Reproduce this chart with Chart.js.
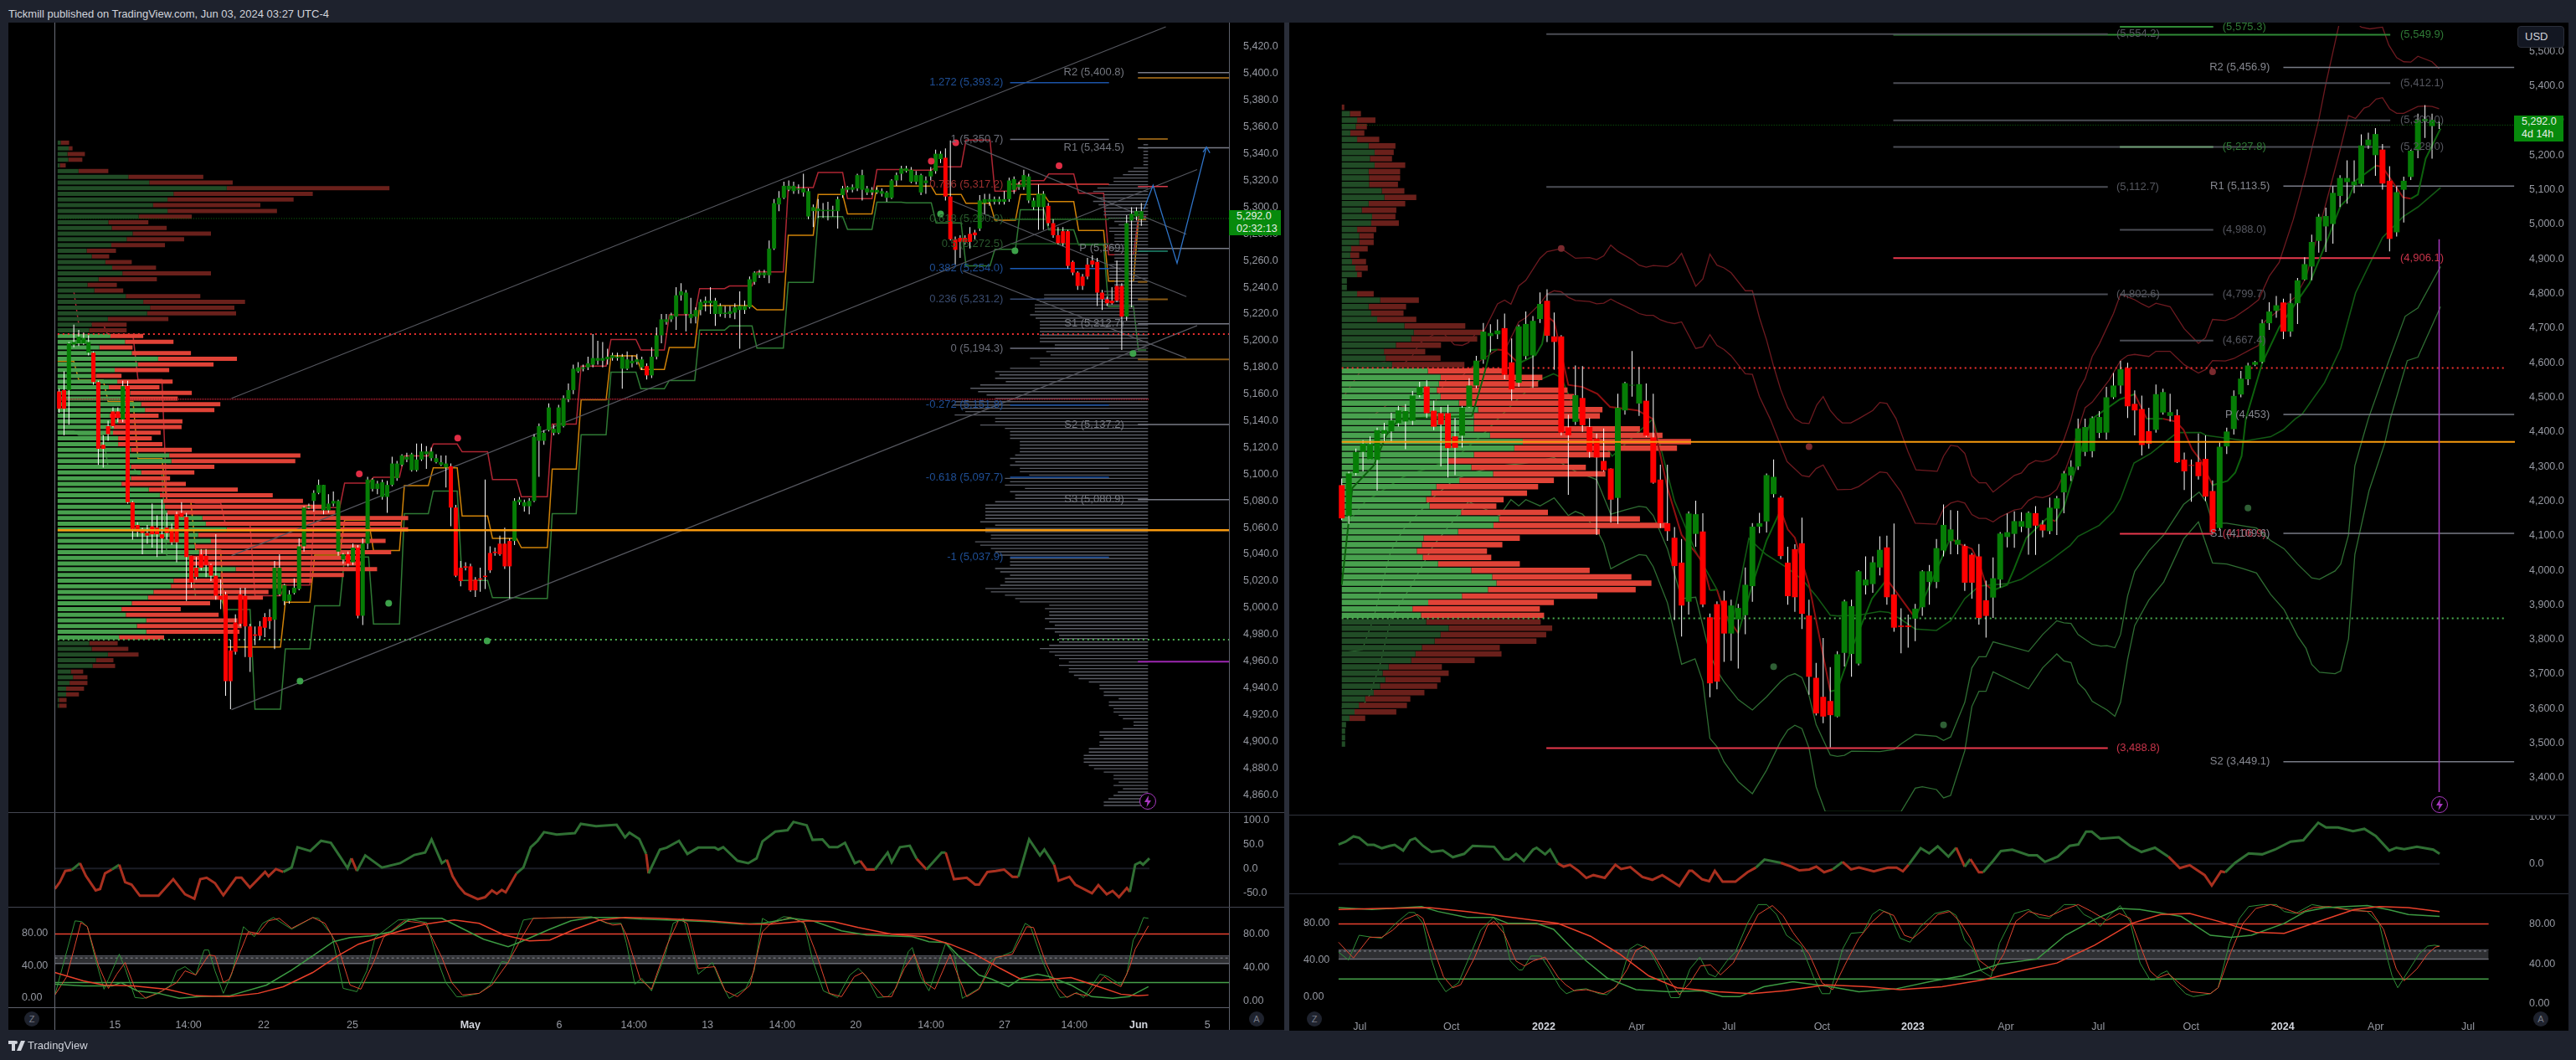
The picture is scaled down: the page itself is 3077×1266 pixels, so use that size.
<!DOCTYPE html>
<html>
<head>
<meta charset="utf-8">
<title>Tickmill chart</title>
<script src="https://cdn.jsdelivr.net/npm/chart.js@4/dist/chart.umd.js"></script>
<style>
  html, body { margin: 0; width: 3077px; height: 1266px; background: #1e222d; overflow: hidden; font-family: "Liberation Sans", sans-serif; }
  .abs, canvas { position: absolute; }
  .black { background: #000; }
  .rule { position: absolute; }
  .priceBox { position: absolute; background: #078a0c; color: #e6efe6; font-size: 12.5px; line-height: 15px; padding: 0 0 0 9px; box-sizing: border-box; }
  .round { position: absolute; width: 18px; height: 18px; border-radius: 9px; background: #1e222d; color: #787b86; font-size: 11px; line-height: 18px; text-align: center; }
  .bolt { position: absolute; width: 18px; height: 18px; border: 1.5px solid #a838c0; border-radius: 10px; background: #000; }
</style>
</head>
<body>
<div class="abs" style="left:10px;top:9px;color:#d1d4dc;font-size:13px">Tickmill published on TradingView.com, Jun 03, 2024 03:27 UTC-4</div>
<div class="abs" style="left:1534px;top:27px;width:6px;height:1204px;background:#2a2e39"></div>
<div class="abs black" style="left:10px;top:27px;width:1524px;height:1203px"></div>
<div class="abs black" style="left:1540px;top:27px;width:1528px;height:1204px"></div>

<canvas id="mainL" width="1524" height="943" style="left:10px;top:27px"></canvas>
<canvas id="cciL" width="1524" height="113" style="left:10px;top:970px"></canvas>
<canvas id="stochL" width="1524" height="147" style="left:10px;top:1083px"></canvas>
<canvas id="mainR" width="1529" height="946" style="left:1539px;top:27px"></canvas>
<canvas id="cciR" width="1529" height="94" style="left:1539px;top:973px"></canvas>
<canvas id="stochR" width="1529" height="164" style="left:1539px;top:1067px"></canvas>

<div class="rule" style="left:65px;top:27px;width:1px;height:1203px;background:#6a6d78"></div>
<div class="rule" style="left:1468px;top:27px;width:1px;height:1203px;background:#5d606b"></div>
<div class="rule" style="left:10px;top:970px;width:1524px;height:1px;background:#434651"></div>
<div class="rule" style="left:10px;top:1083px;width:1524px;height:1px;background:#434651"></div>
<div class="rule" style="left:10px;top:1203px;width:1459px;height:1px;background:#5d606b"></div>
<div class="rule" style="left:1540px;top:973px;width:1528px;height:1px;background:#2f323c"></div>
<div class="rule" style="left:1540px;top:1067px;width:1528px;height:1px;background:#2f323c"></div>

<div class="priceBox" style="left:1468px;top:251px;width:62px;height:30px">5,292.0<br>02:32:13</div>
<div class="priceBox" style="left:3003px;top:138px;width:59px;height:31px">5,292.0<br>4d 14h</div>
<div class="abs" style="left:3007px;top:31px;width:56px;height:26px;box-sizing:border-box;background:#131722;border:1px solid #2a2e39;border-radius:4px;color:#d1d4dc;font-size:13px;line-height:24px;padding-left:8px">USD</div>

<div class="round" style="left:29px;top:1208px">Z</div>
<div class="round" style="left:1492px;top:1208px">A</div>
<div class="round" style="left:1561px;top:1208px">Z</div>
<div class="round" style="left:3026px;top:1208px">A</div>

<div class="bolt" style="left:1361px;top:947px"><svg width="18" height="18" viewBox="0 0 18 18"><path d="M10 2 L5 10 H8.5 L7.5 16 L13 8 H9.5 Z" fill="#a838c0"/></svg></div>
<div class="bolt" style="left:2904px;top:951px"><svg width="18" height="18" viewBox="0 0 18 18"><path d="M10 2 L5 10 H8.5 L7.5 16 L13 8 H9.5 Z" fill="#a838c0"/></svg></div>

<svg class="abs" style="left:10px;top:1243px" width="20" height="12" viewBox="0 0 20 12"><path d="M0 0H8V12H4V4H0Z M9 0A2 2 0 1 1 9 4A2 2 0 1 1 9 0Z M15 0H20L15 12H10Z" fill="#d1d4dc"/></svg>
<div class="abs" style="left:33px;top:1241px;color:#d1d4dc;font-size:13px">TradingView</div>

<script>
// ---- left chart (4h) data: open, high, low, close per bar
const ohlcL = [
[5162,5164,5146,5149],[5163,5177,5129,5149],[5163,5199,5137,5198],[5197,5212,5195,5199],[5198,5208,5196,5203],[5198,5206,5197,5202],[5191,5204,5189,5199],[5191,5192,5167,5169],[5169,5170,5107,5119],[5122,5129,5105,5119],
[5136,5140,5125,5130],[5147,5150,5135,5136],[5147,5150,5139,5142],[5141,5170,5139,5166],[5166,5170,5078,5079],[5079,5080,5051,5059],[5062,5064,5053,5057],[5058,5060,5040,5056],[5056,5062,5048,5054],[5061,5078,5045,5055],
[5060,5069,5038,5055],[5055,5081,5041,5052],[5060,5071,5051,5056],[5059,5063,5047,5049],[5070,5072,5034,5049],[5071,5079,5068,5068],[5068,5071,5005,5038],[5039,5039,5015,5019],[5030,5038,5021,5023],[5040,5044,5028,5030],
[5039,5044,5023,5032],[5032,5033,5020,5024],[5024,5055,5006,5009],[5009,5021,4999,5006],[5010,5012,4934,4945],[4968,4976,4924,4945],[4989,4995,4965,4967],[5010,5015,4986,4988],[5009,5015,4963,4986],[4986,4988,4952,4963],
[4980,4986,4972,4979],[4986,4990,4976,4979],[4993,4996,4978,4985],[4993,4999,4984,4990],[4991,5035,4969,5030],[5010,5040,5009,5030],[5005,5018,5002,5017],[5005,5013,5003,5010],[5011,5022,5010,5015],[5014,5052,5013,5046],
[5046,5076,5042,5075],[5075,5078,5074,5076],[5080,5088,5072,5086],[5086,5096,5085,5092],[5073,5092,5070,5092],[5073,5085,5071,5078],[5078,5087,5076,5080],[5042,5081,5039,5080],[5036,5041,5033,5040],[5040,5042,5031,5033],
[5034,5048,5032,5045],[5045,5047,4992,4994],[4994,5052,4987,5048],[5048,5098,5044,5096],[5089,5097,5087,5096],[5089,5095,5085,5093],[5083,5096,5081,5094],[5083,5095,5071,5092],[5092,5113,5091,5108],[5097,5110,5095,5108],
[5107,5115,5106,5114],[5111,5116,5109,5113],[5103,5116,5102,5115],[5103,5123,5102,5111],[5111,5123,5110,5117],[5115,5121,5104,5117],[5112,5120,5110,5117],[5109,5115,5108,5112],[5107,5114,5106,5109],[5105,5114,5090,5108],
[5106,5108,5061,5075],[5075,5077,5023,5024],[5030,5035,5016,5020],[5031,5034,5028,5030],[5031,5033,5012,5013],[5021,5023,5008,5013],[5022,5030,5012,5021],[5024,5096,5014,5023],[5041,5046,5026,5028],[5042,5045,5039,5041],
[5048,5054,5039,5040],[5048,5060,5029,5031],[5050,5052,5007,5031],[5050,5082,5047,5080],[5079,5083,5077,5081],[5076,5081,5072,5079],[5076,5082,5070,5080],[5080,5130,5079,5128],[5125,5138,5098,5136],[5125,5133,5122,5131],
[5133,5153,5132,5150],[5131,5137,5129,5134],[5131,5152,5130,5150],[5136,5159,5135,5157],[5156,5168,5154,5163],[5163,5182,5160,5179],[5177,5184,5176,5180],[5179,5182,5177,5180],[5180,5188,5178,5183],[5182,5205,5180,5187],
[5185,5200,5182,5187],[5185,5199,5180,5187],[5186,5194,5182,5188],[5187,5191,5185,5189],[5187,5191,5185,5188],[5179,5190,5164,5188],[5179,5192,5178,5186],[5183,5189,5180,5185],[5184,5190,5182,5186],[5180,5188,5178,5186],
[5181,5183,5171,5174],[5174,5195,5172,5188],[5188,5210,5186,5204],[5204,5220,5198,5216],[5214,5220,5212,5216],[5216,5221,5214,5219],[5218,5240,5208,5234],[5234,5243,5230,5237],[5220,5238,5207,5236],[5217,5232,5213,5220],
[5218,5225,5213,5223],[5223,5231,5219,5229],[5228,5233,5222,5230],[5228,5240,5220,5230],[5220,5232,5211,5230],[5220,5228,5218,5226],[5220,5226,5217,5221],[5220,5226,5217,5222],[5221,5228,5216,5225],[5223,5237,5194,5226],
[5223,5230,5220,5226],[5225,5248,5224,5246],[5244,5252,5242,5251],[5249,5253,5247,5251],[5249,5253,5247,5251],[5249,5275,5243,5269],[5269,5306,5268,5303],[5302,5312,5297,5307],[5307,5319,5306,5316],[5313,5320,5312,5316],
[5312,5319,5310,5316],[5313,5317,5310,5314],[5311,5325,5308,5314],[5293,5314,5291,5312],[5297,5302,5285,5300],[5297,5306,5292,5299],[5297,5303,5292,5298],[5297,5304,5290,5298],[5297,5301,5293,5298],[5297,5308,5284,5306],
[5309,5316,5307,5314],[5313,5316,5311,5315],[5313,5317,5311,5315],[5314,5325,5312,5324],[5313,5328,5305,5324],[5311,5316,5309,5314],[5311,5315,5309,5313],[5311,5315,5310,5313],[5310,5314,5308,5312],[5307,5312,5304,5311],
[5307,5321,5306,5320],[5320,5326,5316,5324],[5325,5331,5320,5329],[5327,5331,5326,5329],[5319,5330,5318,5328],[5319,5327,5317,5324],[5311,5325,5309,5324],[5318,5323,5310,5320],[5323,5330,5320,5327],[5327,5343,5325,5340],
[5336,5342,5333,5340],[5337,5344,5305,5308],[5308,5350,5275,5276],[5276,5278,5257,5268],[5277,5279,5262,5274],[5277,5279,5272,5274],[5280,5285,5269,5274],[5281,5283,5276,5279],[5284,5309,5282,5305],[5303,5310,5295,5306],
[5304,5310,5301,5306],[5304,5308,5302,5306],[5304,5308,5302,5306],[5304,5312,5302,5306],[5306,5322,5304,5320],[5313,5323,5310,5321],[5315,5319,5313,5317],[5315,5328,5313,5324],[5305,5325,5303,5323],[5300,5307,5298,5305],
[5300,5317,5283,5310],[5300,5312,5283,5310],[5301,5303,5286,5288],[5288,5291,5277,5279],[5279,5285,5272,5273],[5282,5285,5271,5273],[5282,5283,5254,5256],[5259,5260,5249,5251],[5251,5252,5238,5241],[5248,5250,5238,5241],
[5257,5262,5246,5248],[5260,5264,5255,5257],[5259,5262,5226,5236],[5236,5238,5223,5231],[5231,5233,5226,5228],[5230,5240,5227,5228],[5241,5260,5229,5230],[5241,5243,5193,5218],[5218,5294,5215,5288],[5290,5300,5225,5295],
[5293,5300,5290,5297],[5291,5303,5286,5297]];

// stepped bands: last bar of each daily plateau, then one level per plateau
const bandEdgesL = [3,9,15.1,21,26.9,33,39,45.2,51.2,57.3,63.2,69.5,75.4,81.3,87.5,93.4,99.7,105.6,111.7,117.8,123.6,129.8,135.9,141.5,147.9,154,160,166,172,178.1,184.2,190.1,195.3,201.1,207.2,213.3,219.4];
const bandRedL = [5237,5212.5,5203.8,5171,5079.4,5078.4,5061.8,5009,5017,5075,5093.3,5097.7,5113.7,5122.6,5116.8,5096,5083.2,5137.5,5181,5200.9,5193,5219.3,5239,5241,5251.5,5314.7,5326,5306.4,5328.1,5327.7,5330.2,5350.3,5312,5319.9,5324.8,5310.5,5264.3,5293];
const bandOrangeL = [5184.5,5170.6,5154.5,5111.6,5079.4,5043,4970.6,4970.6,5004.2,5039.4,5065.6,5042.8,5091.5,5104.7,5068.7,5052,5045,5103.9,5155.7,5188.7,5178.5,5194.9,5226.2,5226.2,5223.1,5279,5309.5,5295,5315.7,5315.7,5309.5,5302.9,5290.2,5309.5,5304.1,5282.6,5244.6,5290.8];
const bandGreenL = [5132.3,5129.2,5105.3,5100,5039,5006.9,4998.6,4924,4969.2,5001.5,5038,4987.9,5070.5,5087.3,5020.4,5007.5,5006.9,5070.5,5129.6,5176.4,5164,5170.2,5207.9,5211,5194.5,5243.6,5292.9,5283.4,5303.7,5303.3,5288.2,5256,5268.5,5298.1,5283,5271.8,5225.6,5193];

// volume profile left of the price: rows run from the top price down
const vpTopL = 5348.3, vpBottomL = 4926.6, vaHighL = 5205, vaLowL = 4976, pocL = 5058;
const vpGreenL = [7,26,23,25,5,49,166,215,397,272,258,224,258,190,119,127,176,162,126,68,80,112,128,152,96,70,86,160,201,217,210,118,80,74,124,158,98,174,236,188,134,90,140,120,170,162,196,205,122,142,132,130,142,142,172,262,267,172,196,172,150,214,240,248,252,257,340,348,397,330,360,322,332,312,312,418,382,272,266,225,212,174,150,160,208,186,208,144,74,80,118,90,82,31,36,28,20,20,3,3];
const vpTotalL = [27,35,64,58,19,119,342,411,779,599,554,476,515,315,213,256,360,297,252,137,121,174,231,360,233,139,154,335,440,415,419,260,162,162,201,272,176,313,421,366,262,150,270,239,315,282,382,368,237,293,291,242,221,246,315,570,558,368,321,264,301,423,505,576,627,652,823,807,823,732,770,712,783,702,712,750,672,597,537,495,482,358,289,378,422,432,427,250,141,166,190,131,135,60,70,70,62,50,21,21];

// grey session profile at the right end of the left chart
const grayTopL = 5346.8, grayBottomL = 4851.9;
const grayVolL = [11,11,11,11,11,11,11,34,47,59,81,81,93,119,129,104,119,129,116,104,104,104,94,79,69,91,91,79,79,79,91,91,79,79,79,79,91,91,91,91,91,79,79,79,104,244,244,254,266,266,266,277,264,254,254,254,254,254,254,254,219,219,239,229,277,254,254,324,359,349,359,334,394,417,399,379,359,454,459,439,429,454,359,
359,394,336,324,324,324,301,301,301,301,312,324,312,324,301,301,279,336,324,336,289,324,312,312,359,382,382,382,382,382,394,359,382,382,369,369,406,394,369,359,349,324,324,324,359,347,324,336,336,347,382,369,336,312,301,232,242,232,232,242,232,219,242,219,209,209,209,232,254,232,219,209,186,209,186,186,174,163,139,114,114,104,104,69,92,92,81,81,69,59,34,34,59,114,114,104,114,114,139,139,151,151,151,139,127,104,81,81,69,81,59,71,81,93,104,104];

const fibPricesL = [5393.2,5350.7,5317.2,5290.9,5272.5,5254,5231.2,5194.3,5151.8,5097.7,5037.9];
const fibNamesL = ['1.272 (5,393.2)','1 (5,350.7)','0.786 (5,317.2)','0.618 (5,290.9)','0.5 (5,272.5)','0.382 (5,254.0)','0.236 (5,231.2)','0 (5,194.3)','-0.272 (5,151.8)','-0.618 (5,097.7)','-1 (5,037.9)'];
const pivotPricesL = [5400.8,5344.5,5269,5212.7,5137.2,5080.9];
const pivotNamesL = ['R2 (5,400.8)','R1 (5,344.5)','P (5,269)','S1 (5,212.7)','S2 (5,137.2)','S3 (5,080.9)'];
const lastPriceL = 5291.5, hiddenLevelL = 5156.2;

// drawn tools: [bar, price] end points
const channelLowL = [[35.2,4923.6],[232.4,5211.3]];
const channelMidL = [[35.2,5039],[232.4,5328.2]];
const channelTopL = [[35.2,5156.8],[226,5435.1]];
const forkAL = [[185,5348],[230.2,5279.7]];
const forkBL = [[182.5,5304.5],[230.2,5233]];
const forkCL = [[184.5,5252.3],[230.2,5187]];
const forecastL = [[221.5,5298.3],[223.4,5316.4],[228.3,5258],[234.3,5345]];
const arrowL = [[233.6,5341.2],[234.3,5345],[235,5340.6]];
const redDotsL = [[178.1,5334.4],[183.1,5348.3],[204.2,5331],[61.3,5100.2],[81.4,5127.1]];
const greenDotsL = [[49.2,4945.1],[67.3,5003.4],[87.4,4975.2],[180,5295],[195.2,5267.4],[219.3,5190.3]];

const stochTicks = [0,40,80];
const timePosL = [12,27,42.3,60.4,84.4,102.5,117.7,132.7,147.9,162.9,178.2,193.2,207.4,220.5,234.5];
const timeTextL = ['15','14:00','22','25','May','6','14:00','13','14:00','20','14:00','27','14:00','Jun','5'];

const cciL = [[-.2,-42],[.8,-28],[1.9,-5],[3.2,-3],[4.9,11],[6.1,-15],[8.1,-45],[9,-42],[10,-10],[11.4,-2],[12.9,8],[14.1,-28],[15.4,-33],[17.1,-56],[20.9,-56],[23.9,-22],[26.3,-53],[28.2,-62],[29.4,-22],[30.7,-19],[32.4,-30],[34.1,-55],[36.7,-19],[37.8,-19],[39.5,-39],[42.6,-7],[43.3,-16],[44.8,-1],[46.3,-7],[48,2],[49.2,44],[51.8,36],[54,57],[56,53],[57.9,24],[59.4,1],[60.2,21],[61.3,-5],[63,27],[66.4,2],[70.1,11],[73,28],[75.2,33],[76.5,60],[78.6,11],[79.6,18],[80.8,-16],[82,-36],[83.3,-51],[85.9,-63],[87.4,-59],[88.8,-45],[89.8,-52],[90.8,-44],[91.6,-49],[93.8,-10],[95.2,2],[96.7,44],[98.1,57],[99.4,75],[102,70],[105.7,73],[106.9,92],[110,87],[114.2,90],[115.9,64],[116.8,74],[118.8,61],[120.2,30],[120.7,-10],[123,39],[124.4,43],[126.9,57],[128.6,30],[130.8,43],[134.2,43],[134.9,39],[135.9,44],[138.8,16],[141,11],[142.7,21],[143.9,56],[146.5,76],[149,79],[150.2,96],[152.9,89],[154.1,59],[156.1,60],[157.5,44],[159.2,44],[160.7,53],[162.7,11],[163.8,16],[165.1,-2],[166.8,-2],[169.4,33],[170.2,13],[171.9,44],[173.9,47],[175.3,20],[177.3,-2],[180.4,33],[181.2,33],[182.9,-22],[185.5,-19],[187.2,-33],[188,-33],[189.7,-7],[191.4,-5],[193.1,-2],[194.8,-17],[196,-17],[198.2,60],[200.4,27],[201.3,39],[203.3,8],[204.2,-25],[206.4,-17],[207.6,-33],[211,-51],[212.3,-34],[214,-53],[215.2,-46],[216.5,-59],[218.1,-40],[218.7,-48],[219.8,8],[220.8,13],[221.4,8],[222.7,21]];

const fastGreenL = [[-.2,7],[3.9,96],[5.3,95],[6.4,89],[8.1,49],[9.8,14],[10.7,26],[12.9,56],[14.1,39],[16.1,4],[17.8,3],[20.9,9],[23.4,19],[24.6,36],[26.3,41],[28.5,31],[30.2,61],[31.1,61],[32.4,36],[34.1,9],[35.8,32],[38.2,89],[40.4,77],[42.1,93],[44.3,100],[48,86],[52.3,100],[53.5,99],[56.2,79],[58.5,15],[61.3,11],[63.3,36],[65,76],[69.7,97],[71.8,98],[75.5,94],[77.7,49],[79.4,22],[81.6,5],[82.8,5],[86.2,9],[88.4,19],[90.8,47],[92.1,46],[95.2,97],[97.2,99],[104,100],[109.1,101],[112.2,93],[115.1,93],[116.2,69],[117.9,20],[119.3,27],[121.3,12],[124.1,56],[125.7,93],[127.8,99],[129.5,62],[130.8,32],[133.7,46],[135.4,22],[137.1,3],[140.5,15],[142.2,36],[143.9,99],[145.6,93],[148.2,101],[149.8,100],[152.4,93],[154.1,49],[156.3,12],[159.2,4],[161.7,31],[163.4,39],[165.1,29],[167.3,4],[169.4,5],[171.1,15],[173.6,59],[174.4,64],[176.1,29],[177.8,12],[181.2,69],[182.9,56],[184.6,3],[188,15],[190.6,49],[194.8,59],[197.4,93],[198.5,89],[200.8,49],[202.8,22],[204.5,4],[206.2,5],[207.9,10],[209.3,4],[212.6,32],[214.3,29],[216.9,19],[218.1,32],[219.4,73],[220.4,83],[221.5,100],[222.5,99]];
const fastRedL = [[-.2,7],[2.2,29],[5.1,94],[6.4,89],[8.7,42],[10.7,15],[12.4,32],[14.1,46],[16.1,15],[18.3,3],[21.7,12],[24.6,22],[26.3,36],[28.5,31],[31.1,55],[32.4,54],[34.1,22],[35.3,26],[39.2,83],[41.2,81],[43.3,96],[45.5,99],[48,87],[52.3,100],[54.8,93],[57.4,66],[59.9,19],[62.1,14],[64.7,46],[66.7,76],[70.9,96],[75.2,93],[78.6,52],[80.6,22],[82.8,7],[86.2,9],[88.8,19],[92.1,46],[95.2,79],[97.2,99],[104,100],[109.5,100],[113.4,91],[115.1,92],[116.2,79],[119,26],[121.3,14],[124.4,66],[126.9,98],[128.6,93],[130.8,39],[134.2,41],[136.3,12],[138.8,5],[141.4,19],[143.9,83],[145.6,93],[149.5,100],[152.4,94],[154.9,56],[157.5,9],[160,5],[162.6,29],[164.3,34],[166,22],[168.5,5],[170.2,5],[172.8,39],[174.8,56],[177,22],[179,14],[182.1,56],[183.8,29],[185.5,5],[188,14],[191.4,52],[194.8,56],[197.7,89],[199.1,88],[201.6,46],[204.1,15],[205.9,4],[207.5,9],[210.1,6],[213.5,29],[215.2,22],[216.9,17],[218.6,39],[219.8,62],[222.5,90]];
const slowGreenL = [[-.2,20],[5.6,18],[11.5,18],[13.2,22],[16.6,12],[20.9,9],[25.1,3],[29.4,5],[35.3,6],[42.9,19],[48,37],[52.3,54],[56.5,71],[59.9,76],[64.1,78],[68.4,83],[71.8,97],[74.3,99],[78.6,99],[82,89],[87.1,74],[92.1,65],[94.7,71],[100.6,86],[104.9,96],[109.1,100],[114.2,100],[119.3,98],[124.4,97],[132.9,95],[139.7,92],[143.9,93],[149.8,99],[154.1,96],[160,84],[165.1,79],[174.4,77],[177.8,71],[181.2,70],[183.8,54],[188,31],[190.6,26],[194,17],[196.5,27],[199.9,32],[202.4,29],[206.7,19],[210.9,5],[215.2,3],[218.6,5],[222.5,17]];
const slowRedL = [[-.2,34],[5.6,24],[9.8,19],[15.8,18],[22.6,14],[28.5,6],[35.3,5],[41.2,9],[46.3,17],[52.3,34],[57.4,54],[61.6,68],[68.4,81],[75.2,92],[81.1,97],[86.2,93],[91.3,79],[96.4,72],[100.6,73],[105.7,86],[110.8,97],[115.9,100],[122.7,99],[132.9,96],[141.4,92],[145.6,92],[153.2,96],[158.3,95],[163.4,88],[170.2,80],[177,77],[182.1,68],[187.2,56],[192.3,39],[196.5,26],[200.8,25],[206.7,28],[210.9,20],[216.9,8],[220.3,6],[222.5,7]];

// ---- right chart (weekly) data
const ohlcR = [
[4246,4265,4145,4150],[4157,4285,4134,4280],[4281,4352,4274,4342],[4342,4376,4286,4366],[4321,4387,4321,4365],[4319,4412,4230,4405],[4395,4426,4370,4405],[4401,4455,4369,4433],[4425,4475,4415,4462],[4430,4480,4350,4460],
[4432,4518,4420,4505],[4506,4545,4500,4530],[4531,4549,4440,4454],[4461,4490,4405,4415],[4454,4472,4300,4421],[4454,4478,4268,4353],[4387,4440,4275,4354],[4389,4475,4355,4470],[4472,4555,4470,4534],[4534,4620,4526,4606],
[4609,4715,4597,4690],[4677,4711,4630,4686],[4682,4725,4668,4693],[4700,4742,4552,4565],[4601,4670,4490,4523],[4542,4710,4530,4705],[4619,4748,4610,4712],[4621,4735,4527,4721],[4726,4803,4715,4770],[4779,4812,4660,4678],
[4676,4745,4580,4660],[4676,4680,4390,4398],[4413,4450,4218,4390],[4429,4592,4420,4506],[4498,4590,4400,4419],[4414,4440,4325,4342],[4381,4395,4102,4326],[4316,4410,4285,4289],[4294,4295,4138,4204],[4209,4510,4134,4470],
[4462,4545,4450,4541],[4534,4634,4502,4536],[4482,4588,4446,4538],[4490,4540,4385,4389],[4384,4510,4250,4253],[4262,4305,4122,4136],[4136,4305,4085,4113],[4094,4125,3856,4012],[4022,4090,3808,3898],[3909,4170,3872,4164],
[4105,4201,4068,4162],[4112,4165,3893,3901],[3864,3875,3633,3673],[3902,3910,3656,3678],[3912,3941,3735,3817],[3817,3915,3738,3898],[3858,3903,3716,3891],[3870,4008,3815,3958],[3954,4136,3909,4126],[4126,4166,4107,4136],
[4141,4280,4109,4275],[4220,4320,4210,4270],[4210,4215,4032,4041],[4022,4068,3900,3925],[4061,4075,3880,3922],[4078,4152,3830,3874],[3869,3915,3640,3692],[3689,3732,3580,3586],[3634,3804,3558,3577],[3622,3720,3488,3581],
[3577,3766,3575,3757],[3761,3915,3722,3910],[3758,3915,3692,3896],[3730,4000,3725,3997],[3956,4040,3930,3973],[3960,4040,3935,4023],[4008,4098,3985,4059],[4066,4100,3900,3922],[3930,4135,3822,3834],[3840,3890,3760,3836],
[3840,3872,3776,3836],[3860,3903,3795,3889],[3893,4000,3868,3997],[3966,4015,3900,3997],[3966,4090,3948,4064],[4057,4190,4040,4131],[4084,4174,4046,4118],[4074,4172,4046,4088],[4070,4076,3940,3964],[4045,4050,3918,3964],
[4040,4076,3843,3862],[3913,3970,3805,3868],[3921,4037,3862,3977],[3973,4110,3950,4106],[4096,4164,4066,4110],[4105,4170,4065,4142],[4126,4168,4110,4142],[4122,4170,4045,4166],[4165,4185,4044,4129],[4132,4145,4095,4115],
[4113,4210,4104,4181],[4178,4215,4102,4208],[4225,4287,4165,4280],[4274,4318,4258,4299],[4300,4438,4290,4410],[4342,4438,4330,4414],[4344,4445,4326,4440],[4397,4460,4382,4443],[4398,4530,4378,4500],[4500,4570,4495,4534],
[4534,4605,4510,4581],[4585,4600,4440,4474],[4481,4520,4390,4462],[4466,4505,4332,4362],[4402,4470,4352,4366],[4406,4537,4398,4509],[4456,4525,4450,4515],[4446,4510,4430,4457],[4448,4465,4310,4312],[4320,4340,4232,4286],
[4304,4320,4198,4302],[4313,4395,4262,4272],[4322,4390,4200,4213],[4229,4260,4108,4110],[4122,4370,4116,4357],[4358,4412,4336,4401],[4408,4520,4392,4504],[4508,4576,4500,4554],[4552,4600,4535,4592],[4594,4605,4590,4602],
[4602,4725,4598,4714],[4714,4775,4695,4748],[4750,4793,4730,4766],[4774,4785,4668,4690],[4690,4800,4675,4772],[4772,4845,4712,4838],[4840,4905,4838,4885],[4878,4970,4838,4949],[4952,5030,4918,5022],[4994,5048,4920,5024],
[5001,5110,4944,5091],[5082,5142,5050,5134],[5122,5185,5060,5134],[5113,5185,5090,5124],[5117,5260,5110,5228],[5228,5265,5218,5245],[5200,5278,5140,5261],[5216,5232,5100,5118],[5126,5168,4922,4958],[4977,5110,4965,5093],
[5100,5138,5005,5126],[5137,5215,5128,5213],[5214,5320,5191,5302],[5298,5345,5250,5305],[5284,5320,5190,5302],[5291,5302,5276,5292]];

const upperOuterR = [[0,4494],[3,4586],[6,4602],[8.1,4586],[9.9,4618],[11,4656],[12,4670],[14,4693],[15.9,4652],[17,4650],[17.9,4658],[19,4686],[20,4688],[22,4770],[23,4781],[23.9,4769],[25,4822],[26,4838],[28,4902],[29,4921],[31,4930],[33,4902],[35,4904],[36,4898],[37,4909],[38,4940],[39,4922],[41,4898],[42,4882],[43,4876],[44,4881],[46,4878],[47,4890],[48,4916],[50,4821],[51,4842],[52,4914],[53,4882],[54,4874],[55,4860],[57,4808],[58,4808],[59,4730],[60,4666],[61,4590],[62,4522],[63,4470],[64,4438],[65,4426],[66,4424],[67.1,4478],[68,4502],[69,4462],[70,4438],[70.7,4426],[71.9,4426],[73,4438],[75,4462],[76,4485],[77,4482],[78.3,4438],[80,4342],[81.1,4290],[84.1,4286],[85,4330],[86,4361],[87,4358],[88,4338],[89,4273],[90,4253],[91,4253],[92,4226],[93,4242],[94,4258],[95,4274],[96,4281],[97,4306],[98,4317],[99,4314],[100,4320],[101,4336],[102,4378],[103,4438],[104,4518],[105,4554],[106,4618],[107,4654],[109,4742],[110,4798],[112,4782],[113,4770],[114,4760],[115,4772],[117,4762],[119,4698],[121,4656],[122,4672],[123,4725],[124.8,4722],[126,4730],[128,4758],[129.5,4782],[131,4850],[132.4,4890],[134.4,5014],[136.2,5150],[138,5302],[139,5406],[141,5590],[143,5590],[144,5570],[145.2,5565],[147,5570],[147.9,5518],[149,5482],[150,5470],[151,5469],[152,5486],[154,5470],[155,5450]];
const upperInnerR = [[3.9,4438],[6.9,4486],[9.9,4466],[12.6,4462],[15,4562],[17,4562],[19,4598],[22,4638],[23,4634],[25,4718],[26,4730],[28,4770],[29,4798],[30,4808],[31,4805],[32,4789],[33,4780],[35,4777],[36,4770],[37,4772],[38,4784],[39,4773],[41,4754],[42,4742],[43,4737],[44,4737],[45,4724],[46,4717],[47,4713],[48,4718],[50,4641],[51,4646],[52,4681],[53,4650],[54,4638],[55,4620],[57,4568],[58,4566],[59,4502],[60.5,4438],[62.9,4314],[65,4274],[66,4270],[67,4294],[68,4304],[70,4233],[72,4234],[73,4242],[76,4284],[77,4282],[79,4226],[81,4136],[84,4133],[85,4178],[86,4194],[87,4200],[88,4194],[89,4161],[90,4150],[91,4150],[92,4140],[93,4154],[95,4174],[96,4178],[97,4202],[98,4213],[99,4210],[100,4217],[101,4234],[102,4278],[103,4334],[104,4406],[105,4470],[106,4486],[108.4,4550],[110,4606],[111,4621],[112,4624],[114,4618],[115,4633],[117,4633],[119,4594],[121,4570],[122,4580],[123,4606],[124.8,4605],[126,4612],[128,4634],[129.5,4650],[130.3,4718],[134.7,4790],[136.2,4846],[138.2,4998],[141,5214],[142.2,5314],[143.2,5306],[144.4,5336],[145.1,5341],[146.1,5362],[147,5366],[148,5334],[149,5321],[150,5321],[152,5341],[153.1,5342],[154,5341],[155,5334]];
const centerR = [[0,3958],[1.5,4238],[4.5,4302],[6.3,4390],[8.1,4438],[18.4,4446],[20,4558],[21,4637],[22,4638],[23,4636],[25,4598],[27.4,4622],[28.3,4654],[29,4734],[30,4718],[32,4536],[34,4530],[36.1,4510],[37.9,4472],[39.1,4469],[41.8,4462],[43.9,4438],[46,4238],[48,4102],[50,4050],[51,4022],[52,3942],[53,3944],[54,3878],[56,3818],[58,3958],[60,4086],[62,4174],[63,4118],[64,4094],[66,3958],[69,3650],[70,3654],[71.9,3766],[74.9,3918],[77,3974],[79,3918],[81,3862],[84,4000],[86,4094],[87,4078],[89,4062],[90,4022],[91,3958],[92,3942],[94,3958],[95,4006],[96.7,4094],[99.6,4150],[100.8,4142],[102,4182],[104,4318],[105.2,4398],[106,4438],[109.9,4494],[112,4509],[113.7,4438],[116,4438],[117.8,4430],[118.9,4406],[120.1,4350],[121.3,4318],[123,4246],[125.1,4258],[126.2,4282],[127.1,4330],[127.7,4438],[130,4598],[132.4,4702],[136.7,4830],[138.8,4934],[141.1,5054],[142.3,5078],[143.2,5126],[146.1,5170],[147,5166],[149.9,5078],[151,5074],[152,5086],[153.1,5190],[155.2,5277]];
const lowerMidR = [[0,4118],[3.3,4198],[8.7,4270],[15.9,4322],[20.2,4398],[24.4,4486],[27.9,4550],[29.9,4568],[31,4557],[34,4414],[36.1,4390],[38.2,4330],[41.8,4398],[44,4438],[47,4200],[50,4054],[53,3944],[55,3830],[57.5,4092],[59.9,4046],[63,4006],[65,3974],[67,3926],[69,3870],[70,3868],[73,3870],[76,3881],[77.3,3878],[79,3858],[81,3830],[84,3826],[86,3854],[88,3918],[90,3954],[92,3958],[94,3961],[96,3974],[100.2,4030],[102.9,4072],[104,4098],[107,4130],[109,4170],[110,4206],[111.9,4310],[114.3,4338],[116,4366],[118,4398],[121.3,4398],[122.1,4390],[127.7,4374],[131.2,4386],[133,4406],[134.7,4438],[135.6,4450],[138.8,4542],[141.1,4642],[143.2,4802],[147,4962],[149.9,5022],[152,5050],[155.2,5106]];
const lowerInnerR = [[0,3752],[.9,3764],[2.9,3770],[4.5,3862],[6.9,4054],[8.7,4118],[12.9,4210],[15.9,4262],[17.9,4278],[22,4302],[25.9,4309],[30,4326],[31,4310],[33,4286],[36,4262],[38,4162],[40,4174],[42,4185],[43,4182],[44,4158],[46,4062],[48,3918],[50,3922],[52,3758],[53,3710],[54,3678],[56,3626],[58,3596],[60,3634],[62,3678],[63,3694],[64,3701],[65,3690],[66,3638],[67,3554],[69,3466],[70,3462],[71,3465],[72,3477],[76,3476],[78,3482],[79,3498],[81,3525],[84,3520],[85,3508],[86,3518],[88,3618],[89,3718],[90,3750],[91,3750],[92,3793],[97,3765],[99,3814],[101,3854],[102,3848],[103,3846],[104,3814],[106,3786],[107.2,3781],[108.1,3782],[109.2,3776],[110,3814],[111,3926],[112,3997],[114,4056],[116.1,4102],[118.9,4190],[121.1,4226],[122.1,4198],[123,4136],[125,4136],[129.2,4122],[131.2,4086],[133.1,4062],[135,4018],[137,3978],[138.1,3974],[140.3,3998],[141.1,4018],[142.2,4102],[143.1,4302],[144.1,4374],[145,4438],[147.9,4606],[150.2,4734],[152,4758],[155.2,4878]];
const lowerOuterR = [[0,3602],[.9,3614],[2.9,3606],[3.9,3638],[5.4,3726],[6.9,3858],[9.9,3958],[12.9,4070],[17.9,4198],[22.3,4158],[23.9,4204],[25,4186],[26,4204],[28,4186],[30,4209],[32,4158],[33,4170],[34,4162],[36,4118],[37,4078],[38,4004],[40,4026],[42,4045],[43,4043],[44,4010],[46,3906],[48,3728],[49.9,3744],[51,3678],[52,3514],[53,3490],[54,3446],[56,3389],[58,3354],[60,3422],[62,3506],[63,3538],[64,3552],[65,3542],[66,3486],[67,3374],[68.3,3302],[79,3302],[81,3370],[82,3374],[84,3366],[85,3342],[86,3349],[88,3478],[89,3606],[90,3650],[91,3650],[92,3706],[97,3657],[99,3718],[101,3758],[102,3738],[103,3733],[104,3674],[105,3654],[106,3621],[108.1,3596],[109.2,3578],[110,3618],[111,3742],[112,3840],[114,3914],[116.1,3966],[118.9,4090],[121,4140],[122.1,4074],[123,4021],[125,4018],[127.1,4006],[129.2,3992],[131.2,3930],[133.1,3886],[135,3810],[136.2,3774],[137,3728],[138.1,3705],[140.3,3701],[141.1,3709],[142.2,3802],[143.1,4046],[145.1,4230],[147.3,4366],[148.1,4438],[150.5,4606],[152,4616],[155.2,4762]];
const redDotsR = [[31,4930],[66,4357],[123,4574]];
const greenDotsR = [[61,3721],[85,3553],[128,4180]];
const purpleLineR = [[155,4956.8],[155,3358.6]];

const vpTopR = 5338.4, vpBottomR = 3497.6, vaHighR = 4584.8, vaLowR = 3860.8, pocR = 4371, lastPriceR = 5287;
const vpGreenR = [0,19,36,33,20,36,63,77,66,77,63,64,64,94,100,63,47,71,69,36,41,41,22,20,24,32,36,12,12,36,90,63,69,83,147,169,163,127,99,103,118,202,232,228,223,232,275,320,310,310,310,348,425,405,310,250,304,355,276,222,210,198,206,280,369,356,273,192,188,176,190,226,304,353,363,343,282,203,166,186,198,251,232,218,188,173,163,110,96,102,90,75,55,40,30,18,10,8,8,8];
const vpTotalR = [6,45,79,59,53,88,126,122,118,149,137,137,132,147,175,149,128,126,134,81,75,75,61,41,57,61,47,12,12,75,181,151,145,175,290,335,318,233,196,232,288,383,471,461,530,545,550,612,606,515,700,753,820,787,630,532,573,619,498,461,435,380,363,484,700,765,606,418,377,341,351,418,582,680,727,690,600,498,465,475,467,494,480,457,371,375,312,235,251,232,224,194,161,153,128,55,10,8,8,8];

// level tools: price position, caption
const longAPricesR = [5549.6,5108,4798,3485.6];
const longANamesR = ['(5,554.2)','(5,112.7)','(4,802.6)','(3,488.8)'];
const midPricesR = [5571,5224,4984,4796.8,4664,4105.6];
const midNamesR = ['(5,575.3)','(5,227.8)','(4,988.0)','(4,799.7)','(4,667.4)','(4,106.9)'];
const longBPricesR = [5548,5408,5300.8,5224,4902.4];
const longBNamesR = ['(5,549.9)','(5,412.1)','(5,300.0)','(5,228.0)','(4,906.1)'];
const pivotPricesR = [5453.6,5110.4,4450.4,4106.4,3446.4];
const pivotNamesR = ['R2 (5,456.9)','R1 (5,113.5)','P (4,453)','S1 (4,109.6)','S2 (3,449.1)'];

const timePosR = [3,15.9,28.9,42,55,68.1,80.9,94,107,120.1,133,146.1,159.1];
const timeTextR = ['Jul','Oct','2022','Apr','Jul','Oct','2023','Apr','Jul','Oct','2024','Apr','Jul'];

const cciR = [[0,41],[1,47],[2.1,58],[2.9,55],[4.1,40],[5,40],[6.1,33],[7.2,38],[7.9,40],[9.1,28],[10.1,50],[10.8,54],[11.9,38],[13.1,25],[14.7,28],[16.1,14],[17.7,21],[18.9,38],[21.9,36],[23.3,10],[24,9],[25,21],[26.1,6],[27.4,30],[27.9,34],[29.1,20],[29.8,30],[30.9,1],[31.7,-6],[32.6,-2],[33.8,-15],[34.9,-30],[35.9,-24],[37.5,-30],[39,-2],[39.8,-11],[41.1,-7],[42.8,-28],[44.2,-34],[45.6,-24],[48,-47],[49.4,-15],[49.8,-15],[51.2,-33],[52.2,-37],[53,-15],[54.1,-38],[55.9,-38],[57.6,-18],[58.8,-8],[60,9],[62.3,2],[63.8,-6],[64.9,-14],[66.3,-12],[67.3,-6],[68.4,-18],[69.6,-12],[71,4],[72.2,-12],[73.3,-8],[75.4,-16],[77.4,-8],[78.6,-8],[79.5,-16],[80.3,-2],[82,33],[83.2,22],[84.4,37],[85.9,15],[87,34],[88.2,-6],[89,10],[90.2,-18],[90.8,-18],[92.2,6],[93.3,27],[94.9,30],[97.2,18],[98.4,18],[99.5,4],[101.3,15],[103,38],[104.2,41],[105.3,68],[106.1,68],[107.3,53],[109.9,56],[111.5,38],[113.1,25],[115,34],[116.9,15],[118.5,-9],[119.9,-3],[122,-24],[123,-46],[124.3,-16],[124.9,-18],[126.3,2],[128.2,22],[130.1,20],[131.9,30],[134.1,47],[135.9,50],[138,87],[139.1,77],[140.8,77],[142.9,69],[144.5,74],[146.1,59],[148,28],[149,34],[150.1,31],[151.9,36],[154.2,30],[155.1,21]];

const fastGreenR = [[0,52],[1.4,44],[2.9,69],[4.7,67],[6.1,66],[7.6,78],[8.7,85],[9.9,92],[10.7,92],[11.9,81],[13.1,44],[14,24],[15.1,12],[16.9,21],[18.6,50],[20,74],[21.8,87],[23.1,78],[24.2,43],[25.4,34],[25.9,34],[27.1,48],[28.5,48],[29.7,35],[31.2,16],[32.1,10],[33.5,14],[34.9,15],[36.7,10],[37.8,9],[39.6,21],[41,55],[42.1,60],[43.7,55],[45.4,33],[46.8,6],[48,6],[49.5,35],[50.9,47],[52.1,30],[53.1,27],[54.7,43],[55.9,52],[57.6,81],[59.1,100],[60.3,100],[61.7,90],[63.1,69],[65.2,58],[66.9,27],[68.1,10],[69.2,10],[71,55],[72.2,71],[73.9,72],[75.2,90],[76.2,95],[77.6,91],[79.1,66],[80.5,62],[82,78],[84,91],[85.9,94],[87,89],[88.2,64],[89.4,55],[90.5,33],[91.9,27],[93.1,61],[95.2,91],[97.2,95],[98.7,87],[100.1,86],[102.2,100],[103.8,100],[105,90],[106.1,86],[107.3,78],[108.6,89],[110.1,99],[111.5,83],[112.9,41],[114.3,24],[115,24],[115.8,30],[116.7,33],[118.1,19],[119.3,10],[120.4,7],[122.8,10],[123.9,16],[125.5,61],[126.9,86],[128.2,98],[130.3,100],[132.1,100],[133.2,93],[134.8,91],[137.1,100],[138.7,98],[141.4,96],[143.1,95],[144.9,93],[146.6,81],[147.8,44],[148.4,28],[149.2,16],[150.7,33],[152.2,50],[153.4,58],[154.4,59],[155.1,58]];
const fastRedR = [[0,62],[2.1,46],[4.4,67],[6.1,67],[7.6,74],[9.3,85],[11.1,90],[11.9,86],[13.1,61],[14.8,27],[16.1,16],[17.2,19],[19.2,47],[21,79],[21.9,83],[23.3,71],[25,43],[26.2,38],[27.4,43],[29.1,47],[30.9,27],[32,19],[33.2,13],[34.9,14],[37.3,10],[39,16],[40.7,35],[41.9,54],[43.1,58],[44.2,52],[46,30],[48,9],[49.5,21],[51,38],[52.4,39],[53.8,29],[55.6,41],[57.6,69],[59.1,90],[61.1,99],[62.6,89],[64,72],[66.3,50],[68.1,21],[69.6,14],[71.6,43],[73.3,66],[75.1,82],[76.8,93],[78.2,89],[79.7,69],[80.9,66],[82.6,76],[84.4,90],[86.1,93],[87.5,83],[89,66],[90.2,44],[92.2,33],[93.7,50],[95.4,83],[97.2,93],[98.7,90],[100.1,88],[102.2,95],[104.2,100],[106.1,93],[108.2,84],[110,91],[111.5,86],[112.9,59],[114.3,33],[115.4,26],[116.9,30],[118.7,19],[120.1,12],[122.8,10],[123.9,16],[125.7,52],[127.4,81],[129.2,96],[131.3,100],[133.2,96],[135.2,91],[137.3,97],[139.6,98],[142.5,94],[145.5,93],[147.2,75],[149,35],[150.1,23],[151.9,35],[153.4,50],[154.5,57],[155.1,58]];
const slowGreenR = [[0,97],[4.7,95],[11.7,98],[14,93],[18.1,87],[21.8,87],[23.9,81],[27.9,81],[30.3,75],[32.6,58],[34.9,43],[37.8,26],[41.9,14],[46.6,12],[51.2,13],[54.1,7],[56.5,7],[59.9,17],[64,22],[69.3,17],[73.3,12],[78.6,15],[83.8,23],[87.9,28],[93.1,40],[98.4,45],[102.4,69],[106.5,85],[110,96],[112.9,95],[118.7,88],[122.8,69],[125.7,67],[128.6,69],[133.2,81],[136.2,93],[139,97],[144.9,99],[147.8,95],[150.7,90],[155.1,88]];
const slowRedR = [[0,95],[5.8,96],[12.8,97],[18.1,93],[24.5,87],[30.9,81],[35.5,68],[39.6,50],[43.7,28],[47.7,16],[53.5,12],[58.2,10],[62.9,13],[68.7,19],[74.5,17],[79.1,14],[85,17],[90.8,24],[96.6,34],[101.2,41],[106.5,59],[111.7,81],[115.8,90],[119.9,91],[124.5,82],[129.2,72],[133.2,71],[137.3,81],[143.1,95],[146.6,98],[150.7,97],[155.1,93]];

// ---- styles and helpers
const UP = '#067d06', DOWN = '#ff0000';
const tickFont = { family: 'Liberation Sans', size: 12.5 };

function pts(list) { return list.map(p => ({ x: p[0], y: p[1] })); }

function line(list, color, width, order, extra) {
  return Object.assign({ type: 'line', data: pts(list), borderColor: color, borderWidth: width, pointRadius: 0, tension: 0, fill: false, order: order, xAxisID: 'x', yAxisID: 'y' }, extra || {});
}

function dots(list, color, r) {
  return { type: 'line', data: pts(list), showLine: false, pointRadius: r, pointBackgroundColor: color, pointBorderWidth: 0, order: 3, xAxisID: 'x', yAxisID: 'y' };
}

function candleSets(ohlc, bodyWidth) {
  const colors = ohlc.map(c => c[3] >= c[0] ? UP : DOWN);
  return [
    { type: 'bar', data: ohlc.map((c, i) => ({ x: i, y: [c[2], c[1]] })), backgroundColor: '#ffffff', barThickness: 1, grouped: false, inflateAmount: 0, order: 21, xAxisID: 'x', yAxisID: 'y' },
    { type: 'bar', data: ohlc.map((c, i) => ({ x: i, y: [Math.min(c[0], c[3]), Math.max(c[0], c[3])] })), backgroundColor: colors, barThickness: bodyWidth, grouped: false, inflateAmount: 0, order: 20, xAxisID: 'x', yAxisID: 'y' }
  ];
}

function profileSets(green, total, top, bottom, vaHigh, vaLow, thick) {
  const step = (top - bottom) / (green.length - 1);
  const inside = k => { const p = top - k * step; return p < vaHigh && p > vaLow; };
  const base = { type: 'bar', indexAxis: 'y', barThickness: thick, grouped: false, inflateAmount: 0, order: 40, xAxisID: 'xv', yAxisID: 'y' };
  return [
    Object.assign({}, base, { data: green.map((g, k) => ({ y: top - k * step, x: [0, g] })), backgroundColor: green.map((g, k) => inside(k) ? '#48a14e' : '#214c26') }),
    Object.assign({}, base, { data: total.map((t, k) => ({ y: top - k * step, x: [green[k], t] })), backgroundColor: total.map((t, k) => inside(k) ? '#e04337' : '#6a201b') })
  ];
}

// horizontal tools: one line per price, caption beside it
function addLevels(sets, texts, prices, names, colors, textColors, x0, x1, labelX, align, width) {
  prices.forEach((p, k) => {
    sets.push(line([[x0, p], [x1, p]], colors[k], width, 30));
    if (names) texts.push({ x: labelX, y: p, text: names[k], color: textColors[k], align: align });
  });
}

function captionPlugin(texts) {
  return {
    id: 'captions',
    afterDatasetsDraw(chart) {
      const c = chart.ctx;
      c.save();
      c.font = '13px "Liberation Sans"';
      c.textBaseline = 'middle';
      texts.forEach(t => {
        c.textAlign = t.align;
        c.fillStyle = t.color;
        c.fillText(t.text, chart.scales.x.getPixelForValue(t.x), chart.scales.y.getPixelForValue(t.y));
      });
      c.restore();
    }
  };
}

function hiddenX(min, max, reverse) {
  return { type: 'linear', display: false, min: min, max: max, reverse: !!reverse, offset: false, grid: { display: false } };
}

// the plot must run edge to edge: drop the room chart.js keeps for half a tick label
function noEdgeRoom(s) {
  s.paddingTop = 0; s.paddingBottom = 0; s.paddingLeft = 0; s.paddingRight = 0;
}

function rightAxis(min, max, step, width, digits, fixedTicks) {
  const axis = {
    type: 'linear', position: 'right', min: min, max: max, offset: false,
    grid: { display: false }, border: { display: false },
    ticks: {
      stepSize: step, includeBounds: false, autoSkip: false, color: '#9598a1', font: tickFont, padding: 9,
      callback: v => v.toLocaleString('en-US', { minimumFractionDigits: digits, maximumFractionDigits: digits })
    },
    afterFit: s => { s.width = width; noEdgeRoom(s); }
  };
  if (fixedTicks) axis.afterBuildTicks = s => { s.ticks = fixedTicks.map(v => ({ value: v })); };
  return axis;
}

function leftMirrorAxis(min, max, padding) {
  return {
    type: 'linear', position: 'left', min: min, max: max, offset: false,
    grid: { display: false }, border: { display: false },
    afterBuildTicks: s => { s.ticks = stochTicks.map(v => ({ value: v })); },
    ticks: { autoSkip: false, mirror: true, padding: padding, color: '#9598a1', font: tickFont, callback: v => v.toFixed(2) },
    afterFit: s => { s.width = 0; noEdgeRoom(s); }
  };
}

function timeAxis(min, max, positions, labels, height, boldSet) {
  return {
    type: 'linear', position: 'bottom', min: min, max: max, offset: false,
    grid: { display: false }, border: { display: false },
    afterBuildTicks: s => { s.ticks = positions.map(v => ({ value: v })); },
    ticks: {
      autoSkip: false, maxRotation: 0, padding: 6,
      color: c => boldSet.includes(labels[c.index]) ? '#d1d4dc' : '#9598a1',
      font: c => ({ family: 'Liberation Sans', size: 12.5, weight: boldSet.includes(labels[c.index]) ? 'bold' : 'normal' }),
      callback: (v, i) => labels[i]
    },
    afterFit: s => { s.height = height; noEdgeRoom(s); }
  };
}

function draw(id, datasets, scales, plugins) {
  return new Chart(document.getElementById(id), {
    type: 'bar',
    data: { datasets: datasets },
    options: {
      responsive: false, animation: false, devicePixelRatio: 1, events: [],
      layout: { padding: 0 },
      plugins: { legend: { display: false }, tooltip: { enabled: false } },
      scales: scales
    },
    plugins: plugins || []
  });
}

function cciSets(series, x0, x1) {
  return [
    line([[x0, 0], [x1, 0]], '#1b1d26', 2, 30),
    line(series, '#2f6f33', 3, 10, { segment: { borderColor: c => c.p1.parsed.y >= 0 ? '#2f6f33' : '#a9301f' } })
  ];
}

function stochSets(fastG, fastR, slowG, slowR, x0, x1, bandTop, bandMid, bandLow, hi, lo) {
  return [
    line([[x0, bandTop], [x1, bandTop]], '#4d4f58', 1, 40, { fill: '+1', backgroundColor: 'rgba(110,112,120,0.42)' }),
    line([[x0, bandLow], [x1, bandLow]], '#6a6c75', 1.5, 41),
    line([[x0, bandMid], [x1, bandMid]], '#8a8c95', 1, 39, { borderDash: [3, 3] }),
    line([[x0, hi], [x1, hi]], '#e8402f', 1.5, 30),
    line([[x0, lo], [x1, lo]], '#45a049', 1.5, 30),
    line(slowG, '#3c9a42', 1.5, 12),
    line(slowR, '#e8402a', 1.5, 11),
    line(fastG, '#2f8f37', 1, 14),
    line(fastR, '#e0452f', 1, 13)
  ];
}

// ---- left main
const GRAY = '#787b86';
const xMinL = -9.68, xMaxL = 238.9;
const textsL = [];
const setsL = [];
function stepLine(levels) {
  const out = [];
  levels.forEach((v, k) => {
    out.push([k ? bandEdgesL[k - 1] + 1 : -0.3, v]);
    out.push([k < bandEdgesL.length ? bandEdgesL[k] : 222, v]);
  });
  return out;
}
setsL.push(line(stepLine(bandRedL), 'rgba(205,45,60,0.85)', 1.5, 50));
setsL.push(line(stepLine(bandOrangeL), '#cf8208', 1.5, 50));
setsL.push(line(stepLine(bandGreenL), '#2f7a34', 1.5, 50));
setsL.push(...profileSets(vpGreenL, vpTotalL, vpTopL, vpBottomL, vaHighL, vaLowL, 5));
setsL.push({ type: 'bar', indexAxis: 'y', data: grayVolL.map((w, k) => ({ y: grayTopL - k * (grayTopL - grayBottomL) / (grayVolL.length - 1), x: [0, w] })), backgroundColor: '#5a5c65', barThickness: 1.4, grouped: false, inflateAmount: 0, order: 42, xAxisID: 'xg', yAxisID: 'y' });
[channelLowL, channelMidL, channelTopL, forkAL, forkBL, forkCL].forEach(l => setsL.push(line(l, '#55575f', 1.2, 35)));
setsL.push(line(forecastL, '#2f74c8', 1.3, 15), line(arrowL, '#2f74c8', 1.3, 15));
addLevels(setsL, textsL, fibPricesL, fibNamesL,
  ['#1c54a8','#6f7280','#e33b3b','#2a6a2e','#1f5c24','#1a5bb8','#364a72','#6f7280','#1c54a8','#1c54a8','#1c54a8'],
  ['#1f4f96','#6a6d78','#9c2f2f','#2a5a2e','#2a5a2e','#1f4f96','#3a4c70','#6a6d78','#1f4f96','#1f4f96','#1f4f96'],
  194.2, 214.4, 192.8, 'right', 1.5);
addLevels(setsL, textsL, pivotPricesL, pivotNamesL, pivotPricesL.map(() => GRAY), pivotPricesL.map(() => '#74777f'), 220.3, 239, 217.5, 'right', 1.5);
addLevels(setsL, textsL, [5396.8, 5186], null, ['#8a5a14', '#8a5a14'], [], 220.3, 239, 0, 'right', 2);
addLevels(setsL, textsL, [5351, 5231], null, ['#8a5a14', '#8a5a14'], [], 220.3, 226.4, 0, 'right', 2);
addLevels(setsL, textsL, [5315.5, 5267], null, ['#d33b4b', '#1f8a70'], [], 220.3, 226.4, 0, 'right', 1.5);
addLevels(setsL, textsL, [5244], null, ['#8a5a14'], [], 220.3, 222.2, 0, 'right', 2);
addLevels(setsL, textsL, [4959.6], null, ['#9c27b0'], [], 220.3, 239, 0, 'right', 2);
setsL.push(line([[-0.3, lastPriceL], [xMaxL, lastPriceL]], '#0d6f0d', 1, 25, { borderDash: [1, 2] }));
setsL.push(line([[-0.3, hiddenLevelL], [222.5, hiddenLevelL]], '#a81e2e', 2, 25, { borderDash: [1, 1] }));
setsL.push(line([[-0.3, vaHighL], [xMaxL, vaHighL]], '#f03030', 2, 25, { borderDash: [2, 4] }));
setsL.push(line([[-0.3, vaLowL], [xMaxL, vaLowL]], '#4caf50', 2, 25, { borderDash: [2, 4] }));
setsL.push(...candleSets(ohlcL, 5));
setsL.push(line([[-0.3, pocL], [xMaxL, pocL]], '#f89a0e', 2.5, 8));
setsL.push(dots(redDotsL, '#e02d45', 4), dots(greenDotsL, '#3da24a', 4));
draw('mainL', setsL, {
  x: hiddenX(xMinL, xMaxL),
  y: rightAxis(4849.4, 5435.7, 20, 66, 1),
  xv: hiddenX(-107.8, 2750),
  xg: hiddenX(-190, 2667.6, true)
}, [captionPlugin(textsL)]);

draw('cciL', cciSets(cciL, -0.2, 222.7), {
  x: hiddenX(xMinL, xMaxL),
  y: rightAxis(-78.7, 116, 50, 66, 1)
});

draw('stochL', stochSets(fastGreenL, fastRedL, slowGreenL, slowRedL, -0.2, xMaxL, 54.1, 51.4, 44.7, 80.3, 22), {
  x: timeAxis(xMinL, xMaxL, timePosL, timeTextL, 27, ['May', 'Jun']),
  y: rightAxis(-7.7, 112.9, 40, 66, 2, stochTicks),
  yl: leftMirrorAxis(-11.4, 112.8, 16)
});

// ---- right main
const xMinR = -7.06, xMaxR = 165.7;
const textsR = [];
const setsR = [];
setsR.push(line(upperOuterR, '#6e1a20', 1.3, 50), line(upperInnerR, '#6e1a20', 1.3, 50));
setsR.push(line(centerR, '#0d620d', 2, 22, { segment: { borderColor: c => c.p1.parsed.y >= c.p0.parsed.y ? '#0d620d' : '#8f0f10' } }));
setsR.push(line(lowerMidR, '#125a14', 1.6, 50), line(lowerInnerR, '#2f6e33', 1.3, 50), line(lowerOuterR, '#2f6e33', 1.3, 50));
setsR.push(...profileSets(vpGreenR, vpTotalR, vpTopR, vpBottomR, vaHighR, vaLowR, 6.5));
addLevels(setsR, textsR, longAPricesR, longANamesR, ['#4b4d55', '#4b4d55', '#4b4d55', '#e8394d'], ['#55575f', '#55575f', '#55575f', '#c8344a'], 28.9, 108.2, 109.4, 'left', 2);
addLevels(setsR, textsR, midPricesR, midNamesR, ['#2f8a36', '#6a9a70', '#4b4d55', '#4b4d55', '#4b4d55', '#e8394d'], ['#2f7a36', '#2f7a36', '#55575f', '#55575f', '#55575f', '#c8344a'], 109.9, 123.1, 124.4, 'left', 2);
addLevels(setsR, textsR, longBPricesR, longBNamesR, ['#2f8a36', '#4b4d55', '#4b4d55', '#4b4d55', '#e8394d'], ['#2f7a36', '#55575f', '#55575f', '#55575f', '#c8344a'], 77.9, 148.1, 149.5, 'left', 2);
addLevels(setsR, textsR, pivotPricesR, pivotNamesR, pivotPricesR.map(() => GRAY), pivotPricesR.map(() => '#85878f'), 133, 165.6, 131.1, 'right', 1.5);
setsR.push(line([[0, lastPriceR], [xMaxR, lastPriceR]], '#0d6f0d', 1, 25, { borderDash: [1, 2] }));
setsR.push(line([[0, vaHighR], [164.5, vaHighR]], '#f03030', 2, 25, { borderDash: [2, 4] }));
setsR.push(line([[0, vaLowR], [164.5, vaLowR]], '#4caf50', 2, 25, { borderDash: [2, 4] }));
setsR.push(...candleSets(ohlcR, 7));
setsR.push(line([[0, pocR], [xMaxR, pocR]], '#f89a0e', 2, 8));
setsR.push(line(purpleLineR, '#a838c0', 1.5, 7));
setsR.push(dots(redDotsR, '#7a2a2e', 4), dots(greenDotsR, '#2f5f35', 4));
draw('mainR', setsR, {
  x: hiddenX(xMinR, xMaxR),
  y: rightAxis(3303, 5573.5, 100, 64, 1),
  xv: hiddenX(-117.4, 2754)
}, [captionPlugin(textsR)]);

draw('cciR', cciSets(cciR, 0, 155.1), {
  x: hiddenX(xMinR, xMaxR),
  y: rightAxis(-62.7, 104, 100, 64, 1)
});

draw('stochR', stochSets(fastGreenR, fastRedR, slowGreenR, slowRedR, 0, 162, 54.4, 53, 45, 80.5, 24.8), {
  x: timeAxis(xMinR, xMaxR, timePosR, timeTextR, 26, ['2022', '2023', '2024']),
  y: rightAxis(-5.4, 111.3, 40, 64, 2, stochTicks),
  yl: leftMirrorAxis(-13, 112.8, 18)
});
</script>
</body>
</html>
